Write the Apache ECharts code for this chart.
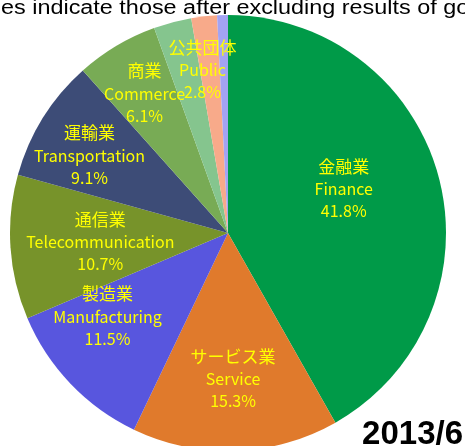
<!DOCTYPE html>
<html>
<head>
<meta charset="utf-8">
<script src="https://cdn.jsdelivr.net/npm/echarts@6/dist/echarts.min.js"></script>
<style>
  html, body { margin: 0; padding: 0; background: #fff; }
  #chart { width: 465px; height: 446px; }
</style>
</head>
<body>
<div id="chart"></div>
<script>
// industry shares (%), clockwise from 12 o'clock
const namesJa = ['金融業', 'サービス業', '製造業', '通信業', '運輸業', '商業', '公共団体', 'その他1', 'その他2'];
const namesEn = ['Finance', 'Service', 'Manufacturing', 'Telecommunication', 'Transportation', 'Commerce', 'Public', '', ''];
const shares = [41.8, 15.3, 11.5, 10.7, 9.1, 6.1, 2.8, 1.9, 0.8];
const colors = ['#009a48', '#e07a2c', '#5856de', '#77932a', '#3d4c77', '#78ab55', '#85c58e', '#f8aa8a', '#a3a3f3'];

// which label ring each slice's label sits on (-1 = no label), and ring radii
const labelRing = [0, 1, 1, 0, 2, 2, 2, -1, -1];
const ringRadius = [125, 143, 160];
// small hand nudges like excel's best fit
const labelNudge = { 0: [-8, -12], 2: [-15, -18], 4: [0, 8], 6: [16, -6] };

const CENTER = [228, 233];
const chart = echarts.init(document.getElementById('chart'));

const pieData = namesJa.map((n, i) => ({
  name: n,
  value: shares[i],
  itemStyle: { color: colors[i] }
}));

const labelStyle = {
  position: 'inside',
  formatter: p => '{ja|' + p.name + '}\n{en|' + namesEn[p.dataIndex] + '}\n{en|' + p.value.toFixed(1) + '%}',
  rich: {
    ja: { color: '#ffff00', fontSize: 17, lineHeight: 23, fontFamily: '"Noto Sans CJK JP"' },
    en: { color: '#ffff00', fontSize: 16, lineHeight: 22, fontFamily: '"Noto Sans CJK JP"' }
  }
};

// transparent twin pies, only used to put the labels at the right distance
const labelSeries = ringRadius.map((r, ring) => ({
  type: 'pie',
  center: CENTER,
  radius: [0, r * 2],
  startAngle: 90,
  clockwise: true,
  silent: true,
  avoidLabelOverlap: false,
  z: 3 + ring,
  itemStyle: { color: 'rgba(0,0,0,0)' },
  labelLine: { show: false },
  label: labelStyle,
  labelLayout: p => {
    const nd = labelNudge[p.dataIndex];
    return nd ? { dx: nd[0], dy: nd[1], hideOverlap: false } : { hideOverlap: false };
  },
  data: namesJa.map((n, i) => ({
    name: n,
    value: shares[i],
    label: { show: labelRing[i] === ring }
  }))
}));

chart.setOption({
  animation: false,
  graphic: [
    {
      type: 'text',
      x: 1,
      y: -2,
      scaleX: 1.17,
      style: {
        text: 'es indicate those after excluding results of go',
        font: '20px "Liberation Sans", Arial, sans-serif',
        fill: '#000'
      },
      z: 0
    },
    {
      type: 'text',
      right: 2,
      bottom: -5,
      style: {
        text: '2013/6',
        font: 'bold 33px "Liberation Sans", Arial, sans-serif',
        fill: '#000'
      }
    }
  ],
  series: [
    {
      type: 'pie',
      center: CENTER,
      radius: [0, 218],
      startAngle: 90,
      clockwise: true,
      silent: true,
      z: 2,
      label: { show: false },
      labelLine: { show: false },
      data: pieData
    }
  ].concat(labelSeries)
});
</script>
</body>
</html>
